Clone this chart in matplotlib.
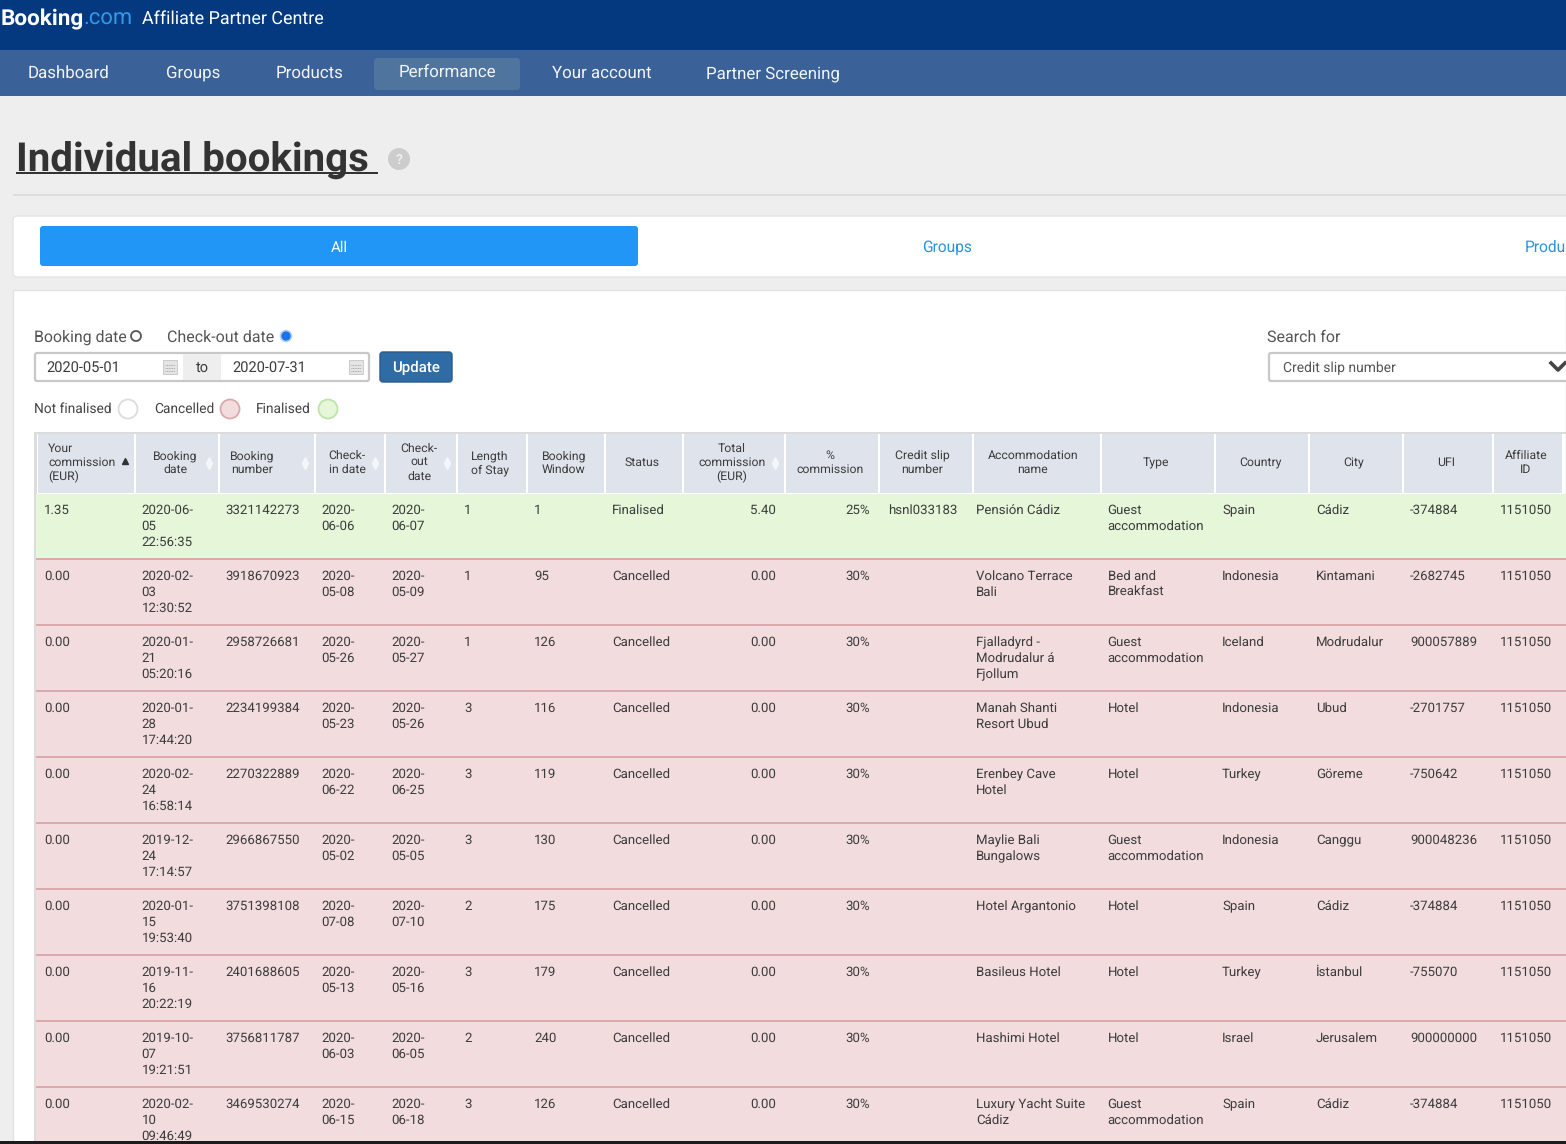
import matplotlib
matplotlib.use("Agg")
import matplotlib.pyplot as plt
from matplotlib.patches import Rectangle, FancyBboxPatch, Circle

plt.rcParams["text.hinting"] = "no_hinting"

#---------------------------------------#
# TABLE DATA                            #
#---------------------------------------#
HEADERS = ["Your\ncommission\n(EUR)", "Booking\ndate", "Booking\nnumber", "Check-\nin date",
           "Check-\nout\ndate", "Length\nof Stay", "Booking\nWindow", "Status",
           "Total\ncommission\n(EUR)", "%\ncommission", "Credit slip\nnumber",
           "Accommodation\nname", "Type", "Country", "City", "UFI", "Affiliate\nID"]
commission = ["1.35", "0.00", "0.00", "0.00", "0.00", "0.00", "0.00", "0.00", "0.00", "0.00"]
booking_date = ["2020-06-05 22:56:35", "2020-02-03 12:30:52", "2020-01-21 05:20:16",
                "2020-01-28 17:44:20", "2020-02-24 16:58:14", "2019-12-24 17:14:57",
                "2020-01-15 19:53:40", "2019-11-16 20:22:19", "2019-10-07 19:21:51",
                "2020-02-10 09:46:49"]
booking_number = ["3321142273", "3918670923", "2958726681", "2234199384", "2270322889",
                  "2966867550", "3751398108", "2401688605", "3756811787", "3469530274"]
check_in = ["2020-06-06", "2020-05-08", "2020-05-26", "2020-05-23", "2020-06-22",
            "2020-05-02", "2020-07-08", "2020-05-13", "2020-06-03", "2020-06-15"]
check_out = ["2020-06-07", "2020-05-09", "2020-05-27", "2020-05-26", "2020-06-25",
             "2020-05-05", "2020-07-10", "2020-05-16", "2020-06-05", "2020-06-18"]
length_of_stay = [1, 1, 1, 3, 3, 3, 2, 3, 2, 3]
booking_window = [1, 95, 126, 116, 119, 130, 175, 179, 240, 126]
status = ["Finalised"] + ["Cancelled"] * 9
total_commission = ["5.40", "0.00", "0.00", "0.00", "0.00", "0.00", "0.00", "0.00", "0.00", "0.00"]
pct_commission = ["25%"] + ["30%"] * 9
credit_slip = ["hsnl033183", "", "", "", "", "", "", "", "", ""]
accommodation = ["Pensión Cádiz", "Volcano Terrace\nBali", "Fjalladyrd -\nModrudalur á\nFjollum",
                 "Manah Shanti\nResort Ubud", "Erenbey Cave\nHotel", "Maylie Bali\nBungalows",
                 "Hotel Argantonio", "Basileus Hotel", "Hashimi Hotel",
                 "Luxury Yacht Suite\nCádiz"]
room_type = ["Guest\naccommodation", "Bed and\nBreakfast", "Guest\naccommodation", "Hotel", "Hotel",
             "Guest\naccommodation", "Hotel", "Hotel", "Hotel", "Guest\naccommodation"]
country = ["Spain", "Indonesia", "Iceland", "Indonesia", "Turkey", "Indonesia", "Spain", "Turkey",
           "Israel", "Spain"]
city = ["Cádiz", "Kintamani", "Modrudalur", "Ubud", "Göreme", "Canggu", "Cádiz", "İstanbul",
        "Jerusalem", "Cádiz"]
ufi = ["-374884", "-2682745", "900057889", "-2701757", "-750642", "900048236", "-374884",
       "-755070", "900000000", "-374884"]
affiliate_id = ["1151050"] * 10
NAV_ITEMS = ["Dashboard", "Groups", "Products", "Performance", "Your account", "Partner Screening"]
#---------------------------------------#

#---------------------------------------#
# LAYOUT AND COLOURS                    #
#---------------------------------------#
FONT = "Roboto"
TEXT_COL = "#3c3c3c"
DARK_BLUE = "#04387f"
NAV_BLUE = "#3a6198"
COL_EDGES = [37, 135, 219, 315, 385, 457, 527, 605, 683, 785, 879, 973, 1101, 1215, 1309, 1403, 1493, 1563]
COL_TEXT_X = [44, 141.5, 225.5, 321.5, 391.5, 464, 534, 612, 776, 870.5, 888, 976, 1107.5, 1222, 1316, 1410, 1500]
HEADER_X = [48, 175, 252, 347, 419, 490, 564, 642, 732, 830, 922, 1033, 1156, 1260, 1354, 1446, 1526]
NAV_X = [28, 166, 276, 399, 552, 706]
SORT_ARROW_X = [209, 305, 375, 447, 775]
ROW_TOP = 494
ROW_H = 66
LINE_H = 16
#---------------------------------------#


def px(size):
    return size * 0.72


def label(ax, x, y, s, size=13.3, color=TEXT_COL, ha="left", weight="normal", zorder=5):
    # y is the text baseline, so that rows line up whatever the letters are
    return ax.text(x, y, s, fontsize=px(size), color=color, ha=ha, va="baseline", family=FONT,
                   fontweight=weight, zorder=zorder)


def box(ax, x0, y0, x1, y1, color, edge="none", lw=0, zorder=1):
    ax.add_patch(Rectangle((x0, y0), x1 - x0, y1 - y0, facecolor=color, edgecolor=edge,
                           linewidth=lw, zorder=zorder))


def round_box(ax, x0, y0, x1, y1, color, edge="none", lw=0, zorder=2, r=3):
    ax.add_patch(FancyBboxPatch((x0 + r, y0 + r), x1 - x0 - 2 * r, y1 - y0 - 2 * r,
                                boxstyle=f"round,pad={r},rounding_size={r}", facecolor=color,
                                edgecolor=edge, linewidth=lw, zorder=zorder))


def draw_top(ax):
    box(ax, 0, 0, 1566, 50, DARK_BLUE)
    box(ax, 0, 50, 1566, 96, NAV_BLUE)
    label(ax, 1, 25, "Booking", size=22.5, color="white", weight="bold")
    label(ax, 83, 25, ".com", size=22, color="#2f9be8")
    label(ax, 142, 24, "Affiliate Partner Centre", size=17.9, color="white")
    round_box(ax, 374, 58, 520, 90, "#4f759f", r=4)
    for x, name in zip(NAV_X, NAV_ITEMS):
        label(ax, x, 78, name, size=16.9, color="#f2f4f8")
    label(ax, 15.5, 171, "Individual bookings", size=40.2, color="#333333", weight="bold")
    box(ax, 16, 172, 378, 174, "#333333", zorder=6)
    ax.add_patch(Circle((399, 159), 11, facecolor="#cccccc", edgecolor="none", zorder=3))
    label(ax, 399, 164, "?", size=14, color="#eeeeee", ha="center", weight="bold")
    box(ax, 13, 194, 1566, 196, "#dddddd")


def draw_tabs(ax):
    round_box(ax, 13, 216, 1580, 277, "white", edge="#e3e3e3", lw=1, r=4)
    round_box(ax, 40, 226, 638, 266, "#2196f7", r=3)
    label(ax, 339, 252, "All", size=15, color="white", ha="center")
    label(ax, 947, 252, "Groups", size=15.5, color="#2a93dc", ha="center")
    label(ax, 1525, 252, "Produ", size=15.5, color="#2a93dc")


def draw_filters(ax):
    box(ax, 13, 290, 1566, 1144, "white", edge="#e3e3e3", lw=1)
    label(ax, 34, 342, "Booking date", size=15.9, color="#555555")
    ax.add_patch(Circle((136, 336), 5, facecolor="white", edgecolor="#555555", linewidth=1.3, zorder=3))
    label(ax, 167, 342, "Check-out date", size=16, color="#555555")
    ax.add_patch(Circle((286, 336), 5.5, facecolor="#1a73e8", edgecolor="#b5d0f2", linewidth=1.2, zorder=3))

    # date range input
    round_box(ax, 35, 353, 369, 381, "white", edge="#c8c8c8", lw=1.6, r=2)
    box(ax, 183, 354, 221, 380, "#eeeeee", zorder=3)
    label(ax, 46, 372, "2020-05-01", size=14.6)
    label(ax, 202, 372, "to", size=14.5, ha="center")
    label(ax, 232, 372, "2020-07-31", size=14.6)
    for x in [170, 356]:
        box(ax, x - 7, 360, x + 7, 374, "#e4e4e4", edge="#c4c4c4", lw=0.6, zorder=3)
        for yy in [365, 368, 371]:
            ax.plot([x - 5, x + 5], [yy, yy], color="#a8a8a8", lw=0.7, ls=(0, (1, 0.7)), zorder=4)
    round_box(ax, 380, 352, 452, 382, "#2f6ca5", edge="#285a8c", lw=1, r=3)
    label(ax, 416, 372, "Update", size=15, color="white", ha="center", weight="medium")

    # status legend
    for x, tx, name, fc, ec in [(128, 34, "Not finalised", "white", "#dddddd"),
                                (230, 154, "Cancelled", "#f2dcdd", "#dcaaad"),
                                (328, 256, "Finalised", "#e5f6d9", "#bfe3a8")]:
        label(ax, tx, 412.5, name, size=13.8, color="#444444")
        ax.add_patch(Circle((x, 409), 9.5, facecolor=fc, edgecolor=ec, linewidth=1.3, zorder=3))

    # search selector
    label(ax, 1267, 342, "Search for", size=16, color="#555555")
    round_box(ax, 1269, 353, 1600, 381, "white", edge="#c8c8c8", lw=1.6, r=2)
    label(ax, 1283, 372.5, "Credit slip number", size=13.9, color="#555555")
    ax.plot([1551, 1558, 1565], [363, 370, 363], color="#444444", lw=2.6, zorder=4)


def draw_table(ax):
    n_rows = len(commission)
    box(ax, 34, 432, 1566, 434, "#dcdcdc")
    box(ax, 34, 432, 37, 494, "#dcdcdc")
    box(ax, 34, 494, 36, 1144, "#dcdcdc")
    for c in range(len(HEADERS)):
        box(ax, COL_EDGES[c] + 1, 434, COL_EDGES[c + 1] - 1, 493, "#dfe4ec", zorder=2)
        lines = HEADERS[c].split("\n")
        first = 466 - (len(lines) - 1) * 7
        for i, line in enumerate(lines):
            label(ax, HEADER_X[c], first + i * 14, line, size=12.2, ha="left" if c == 0 else "center")
    ax.plot([125], [461], marker="^", ms=4.5, color="#333333", zorder=5)
    for x in SORT_ARROW_X:
        ax.plot([x], [460], marker="^", ms=4, color="#f4f6f9", zorder=5)
        ax.plot([x], [466], marker="v", ms=4, color="#f4f6f9", zorder=5)

    columns = [commission, wrap_date_time(booking_date), booking_number, wrap_date(check_in),
               wrap_date(check_out), length_of_stay, booking_window, status, total_commission,
               pct_commission, credit_slip, accommodation, room_type, country, city, ufi, affiliate_id]

    for r in range(n_rows):
        top = ROW_TOP + r * ROW_H
        box(ax, 36, top, 1566, top + ROW_H, "#e5f6d9" if status[r] == "Finalised" else "#f2dcdd", zorder=2)
        box(ax, 36, top + ROW_H - 2, 1566, top + ROW_H, "#dcaaad", zorder=3)
        for c, col in enumerate(columns):
            right = c in (8, 9)
            lines = str(col[r]).split("\n")
            for i, line in enumerate(lines):
                label(ax, COL_TEXT_X[c], top + 20 + i * LINE_H, line,
                      ha="right" if right else "left")
    # dark edge of the screenshot covers the last line
    box(ax, 0, 1141, 1566, 1144, "#1c1c1c", zorder=8)


def wrap_date(values):
    return [v[:5] + "\n" + v[5:] for v in values]


def wrap_date_time(values):
    return [v[:8] + "\n" + v[8:10] + "\n" + v[11:] for v in values]


def main():
    fig = plt.figure(figsize=(15.66, 11.44), dpi=100, facecolor="#eeeeee")
    ax = fig.add_axes([0, 0, 1, 1])
    ax.set_xlim(0, 1566)
    ax.set_ylim(1144, 0)
    ax.axis("off")
    draw_top(ax)
    draw_tabs(ax)
    draw_filters(ax)
    draw_table(ax)
    fig.savefig("out.png", dpi=100, facecolor=fig.get_facecolor())


main()
